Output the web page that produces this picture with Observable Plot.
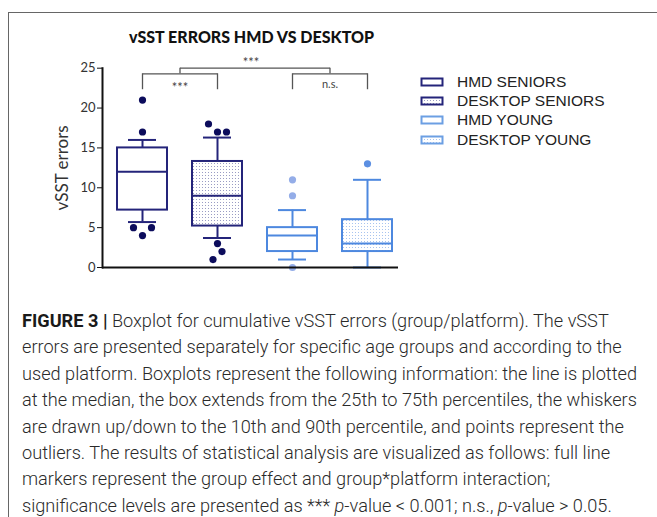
<!DOCTYPE html>
<html>
<head>
<meta charset="utf-8">
<script src="https://cdn.jsdelivr.net/npm/d3@7"></script>
<script src="https://cdn.jsdelivr.net/npm/@observablehq/plot@0.6"></script>
<style>
  html, body { margin: 0; padding: 0; background: #fff; }
  #page { position: relative; width: 657px; height: 517px; overflow: hidden; background: #fff; }
  #frameTop { position: absolute; left: 8px; top: 12px; width: 649px; height: 0; border-top: 1px solid #666; }
  #frameLeft { position: absolute; left: 8px; top: 12px; width: 0; height: 505px; border-left: 1px solid #666; }
  #chart { position: absolute; left: 0; top: 0; }
  #title { position: absolute; left: 0; width: 503px; text-align: center; top: 27px; font-family: Lato, sans-serif; font-weight: 900; font-size: 16px; color: #111; }
  #legend { position: absolute; left: 420px; top: 72px; font-family: "Liberation Sans", Arial, sans-serif; font-size: 15.5px; color: #222; }
  .lrow { height: 19.4px; display: flex; align-items: center; white-space: nowrap; }
  .lrow svg { margin-right: 13px; }
  #caption { position: absolute; left: 21.5px; top: 308px; font-family: Roboto, sans-serif; font-weight: 300; font-size: 18px; line-height: 26.4px; color: #2a2a2a; white-space: nowrap; transform-origin: 0 0; }
  #caption b { font-weight: 700; color: #1a1a1a; }
</style>
</head>
<body>
<div id="page">
  <div id="frameTop"></div>
  <div id="frameLeft"></div>
  <div id="chart"></div>
  <div id="title">vSST ERRORS HMD VS DESKTOP</div>
  <div id="legend"></div>
  <div id="caption"></div>
</div>
<script>
// ---- data ----
const groups = ["HMD SENIORS", "DESKTOP SENIORS", "HMD YOUNG", "DESKTOP YOUNG"];
const platform = ["HMD", "DESKTOP", "HMD", "DESKTOP"];
const ageGroup = ["SENIORS", "SENIORS", "YOUNG", "YOUNG"];
const p10 = [5.7, 3.7, 1, 0];
const q1 = [7.2, 5.2, 2, 2];
const median = [12, 9, 4, 3];
const q3 = [15, 13.3, 5, 6];
const p90 = [16, 16.3, 7.2, 11];
// outliers: group index, value, side-by-side slot
const outGroup = [0, 0, 0, 0, 0, 1, 1, 1, 1, 1, 1, 2, 2, 2, 3];
const outValue = [21, 17, 5, 5, 4, 18, 17, 17, 3, 2, 1, 11, 9, 0, 13];
const outSlot  = [0, 0, -1, 1, 0, -1, 0, 1, 0, 0.5, -0.5, 0, 0, 0, 0];
const yTicks = [0, 5, 10, 15, 20, 25];
const brackets = [
  {a: "HMD SENIORS", b: "DESKTOP SENIORS", label: "***", ly: 22.6},
  {a: "HMD YOUNG", b: "DESKTOP YOUNG", label: "n.s.", ly: 22.9}
];
const topBracket = [{a: "HMD SENIORS", b: "HMD YOUNG", mid: "DESKTOP SENIORS", label: "***", ly: 25.7}];
const bracketLow = 22.3, bracketMid = 24.3, bracketTop = 25;
const captionLines = [
  ["FIGURE 3 |", " Boxplot for cumulative vSST errors (group/platform). The vSST"],
  ["", "errors are presented separately for specific age groups and according to the"],
  ["", "used platform. Boxplots represent the following information: the line is plotted"],
  ["", "at the median, the box extends from the 25th to 75th percentiles, the whiskers"],
  ["", "are drawn up/down to the 10th and 90th percentile, and points represent the"],
  ["", "outliers. The results of statistical analysis are visualized as follows: full line"],
  ["", "markers represent the group effect and group*platform interaction;"],
  ["", "significance levels are presented as *** <i>p</i>-value &lt; 0.001; n.s., <i>p</i>-value &gt; 0.05."]
];

// ---- styles ----
const strokeCol = {SENIORS: "#24247a", YOUNG: "#4d88df"};
const dotCol = ["#0c0c5c", "#0c0c5c", "#94ade8", "#5c8fe2"];
const patternId = {SENIORS: "dots-navy", YOUNG: "dots-blue"};
const halfStep = 37.5;

const boxes = groups.map((g, i) => ({
  group: g, age: ageGroup[i], platform: platform[i],
  p10: p10[i], q1: q1[i], median: median[i], q3: q3[i], p90: p90[i]
}));
const outliers = outGroup.map((gi, i) => ({group: groups[gi], value: outValue[i], slot: outSlot[i], gi}));

const boxFill = d => d.platform === "DESKTOP" ? `url(#${patternId[d.age]})` : "white";

const marks = [
  // whiskers
  Plot.ruleX(boxes, {x: "group", y1: "p10", y2: "q1", stroke: d => strokeCol[d.age], strokeWidth: 2}),
  Plot.ruleX(boxes, {x: "group", y1: "q3", y2: "p90", stroke: d => strokeCol[d.age], strokeWidth: 2}),
  Plot.tickY(boxes, {x: "group", y: "p10", stroke: d => strokeCol[d.age], strokeWidth: 2, insetLeft: 11, insetRight: 11}),
  Plot.tickY(boxes, {x: "group", y: "p90", stroke: d => strokeCol[d.age], strokeWidth: 2, insetLeft: 11, insetRight: 11}),
  // boxes
  Plot.barY(boxes, {x: "group", y1: "q1", y2: "q3", fill: boxFill, stroke: d => strokeCol[d.age], strokeWidth: 2}),
  Plot.tickY(boxes, {x: "group", y: "median", stroke: d => strokeCol[d.age], strokeWidth: 2}),
  // outliers
  ...[-1, -0.5, 0, 0.5, 1].map(s =>
    Plot.dot(outliers.filter(o => o.slot === s), {x: "group", y: "value", r: 3.6, fill: d => dotCol[d.gi], stroke: "none", dx: s * 9})
  ),
  // axes
  Plot.axisY({ticks: yTicks, tickSize: 5, tickPadding: 2, fontSize: 13, fontFamily: "Lato, sans-serif", fill: "#333", stroke: "#111",
    label: null}),
  Plot.text(["vSST errors"], {frameAnchor: "left", textAnchor: "middle", dx: -40, rotate: -90, text: d => d, fontSize: 17, fill: "#333", fontFamily: "Lato, sans-serif"}),
  Plot.frame({anchor: "left", stroke: "#111", strokeWidth: 2}),
  Plot.ruleY([0], {stroke: "#111", strokeWidth: 2}),
  // significance brackets
  Plot.link(brackets, {x1: "a", x2: "b", y1: bracketMid, y2: bracketMid, stroke: "#555", strokeWidth: 1.3}),
  Plot.ruleX(brackets, {x: "a", y1: bracketLow, y2: bracketMid, stroke: "#555", strokeWidth: 1.3}),
  Plot.ruleX(brackets, {x: "b", y1: bracketLow, y2: bracketMid, stroke: "#555", strokeWidth: 1.3}),
  Plot.text(brackets, {x: "a", y: "ly", dx: halfStep, text: "label", fontSize: d => d.label === "***" ? 13 : 11, fill: "#444", fontFamily: "Lato, sans-serif"}),
  Plot.link(topBracket, {x1: "a", x2: "b", y1: bracketTop, y2: bracketTop, dx: halfStep, stroke: "#555", strokeWidth: 1.3}),
  Plot.ruleX(topBracket, {x: "a", y1: bracketMid, y2: bracketTop, dx: halfStep, stroke: "#555", strokeWidth: 1.3}),
  Plot.ruleX(topBracket, {x: "b", y1: bracketMid, y2: bracketTop, dx: halfStep, stroke: "#555", strokeWidth: 1.3}),
  Plot.text(topBracket, {x: "mid", y: "ly", dx: halfStep - 4, text: "label", fontSize: 13, fill: "#444", fontFamily: "Lato, sans-serif"})
];

const plot = Plot.plot({
  width: 400,
  height: 290,
  marginLeft: 102,
  marginRight: 2,
  marginTop: 67.7,
  marginBottom: 23,
  style: {fontFamily: "Lato, sans-serif", fontSize: "13px", overflow: "visible", background: "transparent"},
  x: {domain: groups, range: [104.2, 404.2], paddingInner: 1/3, paddingOuter: 1/6, axis: null},
  y: {domain: [0, 25], axis: null},
  marks
});

// pattern definitions for dotted fills
const ns = "http://www.w3.org/2000/svg";
const defs = document.createElementNS(ns, "defs");
const patterns = [["dots-navy", "#9a9cc4"], ["dots-blue", "#a8c4ef"]];
for (const [id, col] of patterns) {
  const p = document.createElementNS(ns, "pattern");
  p.setAttribute("id", id); p.setAttribute("width", 3); p.setAttribute("height", 3);
  p.setAttribute("patternUnits", "userSpaceOnUse");
  const bg = document.createElementNS(ns, "rect");
  bg.setAttribute("width", 3); bg.setAttribute("height", 3); bg.setAttribute("fill", "white");
  const dot = document.createElementNS(ns, "rect");
  dot.setAttribute("x", 1); dot.setAttribute("y", 1); dot.setAttribute("width", 1); dot.setAttribute("height", 1); dot.setAttribute("fill", col);
  p.appendChild(bg); p.appendChild(dot); defs.appendChild(p);
}
plot.insertBefore(defs, plot.firstChild);
document.getElementById("chart").appendChild(plot);

// legend
const legend = document.getElementById("legend");
boxes.forEach(b => {
  const row = document.createElement("div");
  row.className = "lrow";
  row.innerHTML = `<svg width="24" height="10"><rect x="1.5" y="1.5" width="21" height="7" fill="${boxFill(b)}" stroke="${b.age === "SENIORS" ? strokeCol.SENIORS : "#6c9fe3"}" stroke-width="2"/></svg><span>${b.group}</span>`;
  legend.appendChild(row);
});

// caption
const cap = document.getElementById("caption");
cap.innerHTML = captionLines.map(([b, t]) => `<div>${b ? `<b>${b}</b>` : ""}${t}</div>`).join("");
const lines = [...cap.children];
const w = lines[2].getBoundingClientRect().width;
const k = 615 / w;
cap.style.transform = `scaleX(${k})`;
</script>
</body>
</html>
